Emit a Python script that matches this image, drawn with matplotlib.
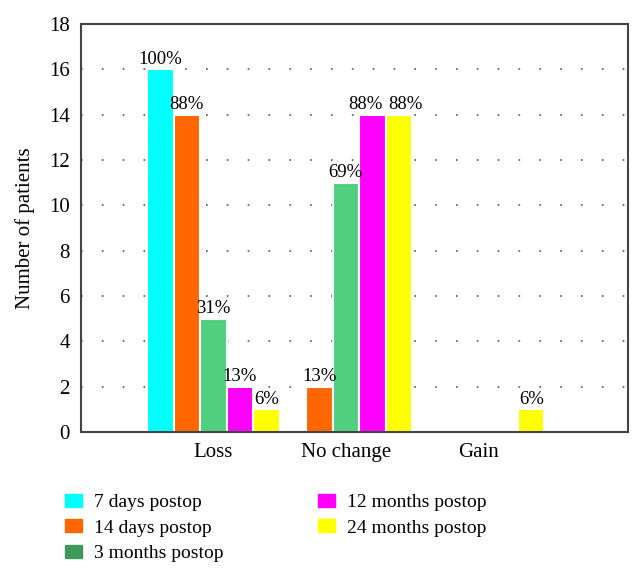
import matplotlib.pyplot as plt
import matplotlib.patches as mpatches
import numpy as np

plt.rcParams['font.family'] = ['Liberation Serif', 'DejaVu Serif']

categories = ['Loss', 'No change', 'Gain']
series = ['7 days postop', '14 days postop', '3 months postop',
          '12 months postop', '24 months postop']
counts = [
    [16, 0, 0],
    [14, 2, 0],
    [5, 11, 0],
    [2, 14, 0],
    [1, 14, 1],
]
percents = [
    ['100%', '', ''],
    ['88%', '13%', ''],
    ['31%', '69%', ''],
    ['13%', '88%', ''],
    ['6%', '88%', '6%'],
]
bar_colors = ['#00FFFF', '#FF6600', '#50CF7F', '#FF00FF', '#FFFF00']
legend_colors = ['#00FFFF', '#FF6600', '#3D9A5A', '#FF00FF', '#FFFF00']

# push apart the two touching labels over "No change"
nudge = {(3, 1): -5, (4, 1): 5}

fig = plt.figure(figsize=(6.42, 5.85), dpi=100)
ax = fig.add_axes([0.126, 0.2615, 0.852, 0.6975])

x = np.arange(len(categories))
w = 0.2
for i in range(len(series)):
    pos = x + (i - 2) * w
    for j in range(len(categories)):
        v = counts[i][j]
        if v == 0:
            continue
        ax.bar(pos[j], v, width=w, color=bar_colors[i], edgecolor='white',
               linewidth=1.5, zorder=2)
        ax.annotate(percents[i][j], (pos[j], v), xytext=(nudge.get((i, j), 0), 1),
                    textcoords='offset points', ha='center', va='bottom',
                    fontsize=13.5, zorder=3)

ax.set_xlim(-1.0, 3.13)
ax.set_ylim(0, 18)
ax.set_yticks(range(0, 19, 2))
ax.set_xticks(x)
ax.set_xticklabels(categories)
ax.tick_params(length=0, labelsize=15, pad=8)
for yv in range(2, 18, 2):
    ax.axhline(yv, color='#555555', linestyle=(0, (1, 11.5)), linewidth=1.2, zorder=1)
for s in ax.spines.values():
    s.set_color('#444444')
    s.set_linewidth(1.5)
ax.set_ylabel('Number of patients', fontsize=15, labelpad=10)

handles = [mpatches.Patch(color=c, label=l) for c, l in zip(legend_colors, series)]
leg_kw = dict(loc='upper left', frameon=False, fontsize=14, borderpad=0,
              borderaxespad=0, handlelength=0.85, handleheight=0.65,
              handletextpad=0.65, labelspacing=0.42)
fig.legend(handles=handles[:3], bbox_to_anchor=(65 / 642, 1 - 494 / 585), **leg_kw)
fig.legend(handles=handles[3:], bbox_to_anchor=(318 / 642, 1 - 494 / 585), **leg_kw)

fig.savefig('out.png', dpi=100)
